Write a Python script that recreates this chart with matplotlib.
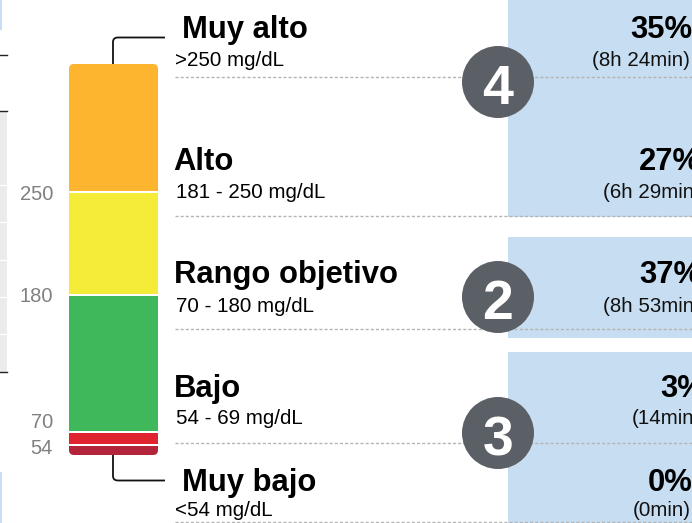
import numpy as np
import matplotlib
matplotlib.use('Agg')
import matplotlib.pyplot as plt
from matplotlib.patches import FancyBboxPatch, Rectangle, Circle, PathPatch
from matplotlib.path import Path

plt.rcParams['font.family'] = ['Liberation Sans', 'DejaVu Sans']

# chart values
bar_share = [34.8, 27.6, 37, 3.1, 2.3]  # share of the bar height
percent_labels = ['35%', '27%', '37%', '3%', '0%']
time_labels = ['(8h 24min)', '(6h 29min)', '(8h 53min)', '(14min)', '(0min)']
range_names = ['Muy alto', 'Alto', 'Rango objetivo', 'Bajo', 'Muy bajo']
range_units = ['>250 mg/dL', '181 - 250 mg/dL', '70 - 180 mg/dL', '54 - 69 mg/dL', '<54 mg/dL']
bar_colors = ['#FDB42E', '#F4EC38', '#3FB85C', '#E0242F', '#B3243A']
thresholds = ['250', '180', '70', '54']
badges = ['4', '2', '3']

px = 3.65  # pixels per percent on the bar

fig = plt.figure(figsize=(6.92, 5.23), dpi=100)
ax = fig.add_axes([0, 0, 1, 1])
ax.set_xlim(0, 692)
ax.set_ylim(523, 0)
ax.axis('off')

# blue panels on the right
for y0, y1 in [(0, 217), (237, 338), (352, 523)]:
    ax.add_patch(Rectangle((508, y0), 184, y1 - y0, color='#C7DDF1', lw=0, zorder=1))

# bits of the neighbouring panel on the left edge
ax.add_patch(Rectangle((0, 0), 2, 30, color='#C7DDF1', lw=0))
ax.add_patch(Rectangle((0, 472), 2, 51, color='#C7DDF1', lw=0))
ax.add_patch(Rectangle((0, 111), 7, 261, color='#ECEBE9', lw=0))
for y in [185, 222, 260, 297, 334]:
    ax.plot([0, 7], [y, y], color='white', lw=1)
for y in [55, 111, 372]:
    ax.plot([0, 7], [y, y], color='#222222', lw=1)

# stacked bar, drawn top down
top = 64
gap = 2
clip = FancyBboxPatch((69, 64), 89, 391, boxstyle='round,pad=0,rounding_size=5',
                      transform=ax.transData, fc='none', ec='none')
ax.add_patch(clip)
for s, c in zip(bar_share, bar_colors):
    h = s * px
    b = ax.bar(113.5, h, width=89, bottom=top, color=c, lw=0, zorder=3)
    b[0].set_clip_path(clip)
    top += h + gap

# threshold labels
for t, y in zip(thresholds, [194, 297, 422, 448]):
    ax.text(53, y, t, color='#808080', fontsize=14.5, ha='right', va='center')

# connectors to the outer ranges, with rounded elbows
codes = [Path.MOVETO, Path.LINETO, Path.CURVE3, Path.CURVE3, Path.LINETO]
ax.add_patch(PathPatch(Path([(113, 64), (113, 42), (113, 37.5), (118, 37.5), (165, 37.5)], codes),
                       fc='none', ec='#111111', lw=1.3, zorder=2))
ax.add_patch(PathPatch(Path([(113, 455), (113, 476), (113, 480.5), (118, 480.5), (165, 480.5)], codes),
                       fc='none', ec='#111111', lw=1.3, zorder=2))

# range names and units
name_pos = [(182, 30), (173, 162), (174, 275), (174, 389), (182, 483)]
unit_pos = [(175, 61), (176, 192), (176, 306), (176, 419), (175, 511)]
for n, u, np_, up in zip(range_names, range_units, name_pos, unit_pos):
    ax.text(np_[0], np_[1], n, fontsize=22.3, fontweight='bold', color='black', va='center')
    ax.text(up[0], up[1], u, fontsize=14.8, color='black', va='center')

# percent and time, cut off by the right edge
pct_x = [630, 639, 639, 660, 648]
pct_y = [30, 162, 275, 389, 483]
time_x = [592, 603, 603, 632, 633]
time_y = [61, 192, 306, 419, 511]
for p, t, x, y, tx, ty in zip(percent_labels, time_labels, pct_x, pct_y, time_x, time_y):
    ax.text(x, y, p, fontsize=22.3, fontweight='bold', ha='left', va='center')
    ax.text(tx, ty, t, fontsize=14.8, ha='left', va='center', color='#111111')

# dashed separators
for y in [77, 216, 329, 443, 522]:
    ax.plot([175, 692], [y, y], color='#B4B4B4', lw=1, ls=(0, (2.2, 1.5)), zorder=2)

# numbered badges
for b, y in zip(badges, [82, 297, 433]):
    ax.add_patch(Circle((498, y), 36, color='#5B5F66', lw=0, zorder=4))
    ax.text(498, y + 22, b, color='white', fontsize=40, fontweight='bold',
            ha='center', va='baseline', zorder=5)

fig.savefig('out.png', dpi=100)
